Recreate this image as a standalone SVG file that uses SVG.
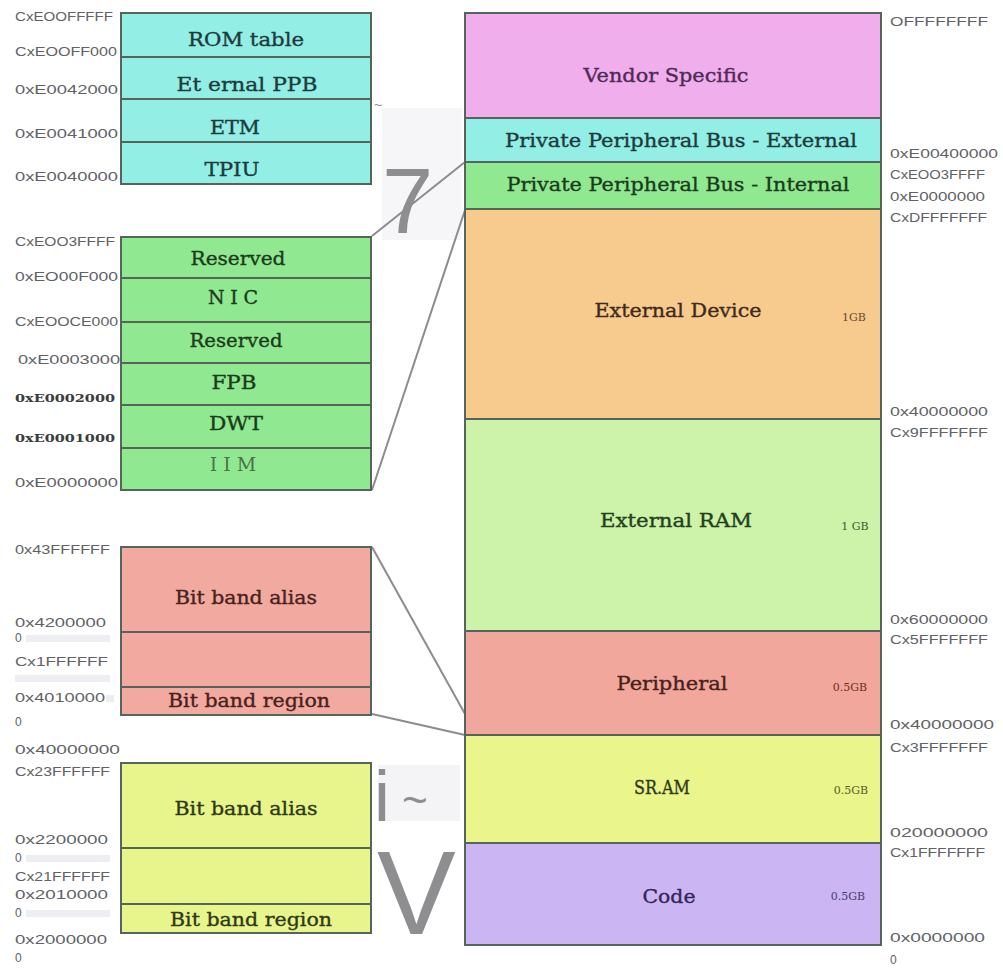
<svg xmlns="http://www.w3.org/2000/svg" width="1003" height="976" viewBox="0 0 1003 976">
<style>
.bx{stroke:#56655a;stroke-width:2}
.lb{font-family:"DejaVu Serif","Liberation Serif",serif;font-size:19px;text-anchor:middle;stroke-width:0.35}
.sz{font-family:"DejaVu Serif","Liberation Serif",serif;font-size:11px;text-anchor:middle}
.ad{font-family:"Liberation Sans",Arial,sans-serif;font-size:12px;fill:#5f6266}
.adb{font-family:"DejaVu Serif","Liberation Serif",serif;font-size:11px;fill:#3a3d40;font-weight:bold}
.cn{fill:none;stroke:#8c8c8c;stroke-width:2}
.art{font-family:"Liberation Sans",Arial,sans-serif;fill:#8e8e90}
.smudge{fill:#eceef2}
.tp{fill:#4e2a55;stroke:#4e2a55}
.tc{fill:#1d3b3b;stroke:#1d3b3b}
.tg{fill:#1c3a1c;stroke:#1c3a1c}
.to{fill:#3f2a1c;stroke:#3f2a1c}
.tl{fill:#23401c;stroke:#23401c}
.tr{fill:#47221c;stroke:#47221c}
.ty{fill:#2e3a14;stroke:#2e3a14}
.tv{fill:#33245a;stroke:#33245a}
</style>
<rect width="1003" height="976" fill="#ffffff"/>

<!-- artifact backgrounds -->
<rect x="382" y="108" width="80" height="132" fill="#f6f6f8"/>
<rect x="378" y="765" width="82" height="56" fill="#f4f4f6"/>

<g id="connectors">
<line class="cn" x1="372" y1="236" x2="465" y2="162"/>
<line class="cn" x1="372" y1="490" x2="465" y2="210"/>
<line class="cn" x1="372" y1="547" x2="465" y2="714"/>
<line class="cn" x1="372" y1="714" x2="465" y2="735"/>
</g>

<!-- artifacts -->
<text class="art" x="382" y="233" font-size="92">7</text>
<text class="art" x="374" y="110" font-size="14">~</text>
<text class="art" x="374" y="821" font-size="72">i</text>
<text class="art" x="402" y="815" font-size="44">~</text>
<text class="art" x="377" y="934" font-size="118" fill="#9a9a9c">V</text>

<!-- right column -->
<g id="vendor-specific"><rect class="bx" x="465" y="13" width="416" height="105" fill="#F0AEEC"/><text class="lb tp" x="666" y="82" textLength="165" lengthAdjust="spacingAndGlyphs">Vendor Specific</text></g>
<g id="ppb-external"><rect class="bx" x="465" y="118" width="416" height="44" fill="#93EEE6"/><text class="lb tc" x="681" y="147" textLength="352" lengthAdjust="spacingAndGlyphs">Private Peripheral Bus - External</text></g>
<g id="ppb-internal"><rect class="bx" x="465" y="162" width="416" height="47" fill="#90E991"/><text class="lb tg" x="678" y="191" textLength="343" lengthAdjust="spacingAndGlyphs">Private Peripheral Bus - Internal</text></g>
<g id="external-device"><rect class="bx" x="465" y="209" width="416" height="210" fill="#F6CB8D"/><text class="lb to" x="678" y="317" textLength="167" lengthAdjust="spacingAndGlyphs">External Device</text><text class="sz" x="854" y="321" fill="#6a4a30">1GB</text></g>
<g id="external-ram"><rect class="bx" x="465" y="419" width="416" height="212" fill="#CDF2AA"/><text class="lb tl" x="676" y="527" textLength="152" lengthAdjust="spacingAndGlyphs">External RAM</text><text class="sz" x="855" y="530" fill="#3d5a30">1 GB</text></g>
<g id="peripheral"><rect class="bx" x="465" y="631" width="416" height="104" fill="#F2A79D"/><text class="lb tr" x="672" y="690" textLength="111" lengthAdjust="spacingAndGlyphs">Peripheral</text><text class="sz" x="850" y="691" fill="#6e2e24">0.5GB</text></g>
<g id="sram"><rect class="bx" x="465" y="735" width="416" height="108" fill="#EAF58C"/><text class="lb ty" x="662" y="794" textLength="56" lengthAdjust="spacingAndGlyphs" font-size="17">SR.AM</text><text class="sz" x="851" y="794" fill="#5a5a20">0.5GB</text></g>
<g id="code"><rect class="bx" x="465" y="843" width="416" height="102" fill="#CBB5F3"/><text class="lb tv" x="669" y="903" textLength="53" lengthAdjust="spacingAndGlyphs">Code</text><text class="sz" x="848" y="900" fill="#4a3a70">0.5GB</text></g>

<!-- right addresses -->
<g id="right-addresses">
<text class="ad" x="890" y="26" textLength="98" lengthAdjust="spacingAndGlyphs">OFFFFFFFF</text>
<text class="ad" x="890" y="158" textLength="108" lengthAdjust="spacingAndGlyphs">0xE00400000</text>
<text class="ad" x="890" y="179" textLength="95" lengthAdjust="spacingAndGlyphs">CxEOO3FFFF</text>
<text class="ad" x="890" y="201" textLength="95" lengthAdjust="spacingAndGlyphs">0xE0000000</text>
<text class="ad" x="890" y="222" textLength="97" lengthAdjust="spacingAndGlyphs">CxDFFFFFFF</text>
<text class="ad" x="890" y="416" textLength="98" lengthAdjust="spacingAndGlyphs">0x40000000</text>
<text class="ad" x="890" y="437" textLength="98" lengthAdjust="spacingAndGlyphs">Cx9FFFFFFF</text>
<text class="ad" x="890" y="624" textLength="98" lengthAdjust="spacingAndGlyphs">0x60000000</text>
<text class="ad" x="890" y="644" textLength="98" lengthAdjust="spacingAndGlyphs">Cx5FFFFFFF</text>
<text class="ad" x="890" y="729" textLength="104" lengthAdjust="spacingAndGlyphs">0x40000000</text>
<text class="ad" x="890" y="752" textLength="98" lengthAdjust="spacingAndGlyphs">Cx3FFFFFFF</text>
<text class="ad" x="890" y="837" textLength="98" lengthAdjust="spacingAndGlyphs">020000000</text>
<text class="ad" x="890" y="857" textLength="95" lengthAdjust="spacingAndGlyphs">Cx1FFFFFFF</text>
<text class="ad" x="890" y="942" textLength="95" lengthAdjust="spacingAndGlyphs">0x0000000</text>
<text class="ad" x="890" y="964">0</text>
</g>

<!-- left cyan -->
<g id="rom-table"><rect class="bx" x="121" y="13" width="250" height="44" fill="#93EEE6"/><text class="lb tc" x="246" y="46" textLength="116" lengthAdjust="spacingAndGlyphs">ROM table</text></g>
<g id="external-ppb"><rect class="bx" x="121" y="57" width="250" height="42" fill="#93EEE6"/><text class="lb tc" x="247" y="91" textLength="141" lengthAdjust="spacingAndGlyphs">Et ernal PPB</text></g>
<g id="etm"><rect class="bx" x="121" y="99" width="250" height="43" fill="#93EEE6"/><text class="lb tc" x="235" y="134" textLength="50" lengthAdjust="spacingAndGlyphs">ETM</text></g>
<g id="tpiu"><rect class="bx" x="121" y="142" width="250" height="42" fill="#93EEE6"/><text class="lb tc" x="232" y="176" textLength="55" lengthAdjust="spacingAndGlyphs">TPIU</text></g>

<!-- left green -->
<g id="reserved-1"><rect class="bx" x="121" y="237" width="250" height="41" fill="#90E991"/><text class="lb tg" x="238" y="265" textLength="95" lengthAdjust="spacingAndGlyphs">Reserved</text></g>
<g id="nic"><rect class="bx" x="121" y="278" width="250" height="44" fill="#90E991"/><text class="lb tg" x="233" y="304" textLength="50">N I C</text></g>
<g id="reserved-2"><rect class="bx" x="121" y="322" width="250" height="41" fill="#90E991"/><text class="lb tg" x="236" y="347" textLength="93" lengthAdjust="spacingAndGlyphs">Reserved</text></g>
<g id="fpb"><rect class="bx" x="121" y="363" width="250" height="42" fill="#90E991"/><text class="lb tg" x="234" y="389" textLength="45" lengthAdjust="spacingAndGlyphs">FPB</text></g>
<g id="dwt"><rect class="bx" x="121" y="405" width="250" height="43" fill="#90E991"/><text class="lb tg" x="236" y="430" textLength="54" lengthAdjust="spacingAndGlyphs">DWT</text></g>
<g id="itm"><rect class="bx" x="121" y="448" width="250" height="42" fill="#90E991"/><text class="lb" x="233" y="471" fill="#4f6f4f" font-size="13">I I M</text></g>

<!-- left red -->
<g id="bitband-alias-periph"><rect class="bx" x="121" y="547" width="250" height="85" fill="#F2A99F"/><text class="lb tr" x="246" y="604" textLength="142" lengthAdjust="spacingAndGlyphs">Bit band  alias</text></g>
<g id="periph-gap"><rect class="bx" x="121" y="632" width="250" height="55" fill="#F2A99F"/></g>
<g id="bitband-region-periph"><rect class="bx" x="121" y="687" width="250" height="28" fill="#F2A99F"/><text class="lb tr" x="249" y="707" textLength="162" lengthAdjust="spacingAndGlyphs">Bit band  region</text></g>

<!-- left yellow -->
<g id="bitband-alias-sram"><rect class="bx" x="121" y="763" width="250" height="85" fill="#E8F58C"/><text class="lb ty" x="246" y="815" textLength="143" lengthAdjust="spacingAndGlyphs">Bit band  alias</text></g>
<g id="sram-gap"><rect class="bx" x="121" y="848" width="250" height="56" fill="#E8F58C"/></g>
<g id="bitband-region-sram"><rect class="bx" x="121" y="904" width="250" height="29" fill="#E8F58C"/><text class="lb ty" x="251" y="926" textLength="162" lengthAdjust="spacingAndGlyphs">Bit band  region</text></g>

<!-- left addresses -->
<g id="left-addresses">
<text class="ad" x="15" y="21" textLength="98" lengthAdjust="spacingAndGlyphs">CxEOOFFFFF</text>
<text class="ad" x="15" y="56" textLength="102" lengthAdjust="spacingAndGlyphs">CxEOOFF000</text>
<text class="ad" x="15" y="94" textLength="103" lengthAdjust="spacingAndGlyphs">0xE0042000</text>
<text class="ad" x="15" y="138" textLength="103" lengthAdjust="spacingAndGlyphs">0xE0041000</text>
<text class="ad" x="15" y="181" textLength="103" lengthAdjust="spacingAndGlyphs">0xE0040000</text>
<text class="ad" x="15" y="246" textLength="100" lengthAdjust="spacingAndGlyphs">CxEOO3FFFF</text>
<text class="ad" x="15" y="281" textLength="103" lengthAdjust="spacingAndGlyphs">0xEO00F000</text>
<text class="ad" x="15" y="326" textLength="103" lengthAdjust="spacingAndGlyphs">CxEOOCE000</text>
<text class="ad" x="18" y="364" textLength="102" lengthAdjust="spacingAndGlyphs">0xE0003000</text>
<text class="adb" x="15" y="402" textLength="100" lengthAdjust="spacingAndGlyphs">0xE0002000</text>
<text class="adb" x="15" y="442" textLength="100" lengthAdjust="spacingAndGlyphs">0xE0001000</text>
<text class="ad" x="15" y="487" textLength="103" lengthAdjust="spacingAndGlyphs">0xE0000000</text>

<text class="ad" x="15" y="554" textLength="95" lengthAdjust="spacingAndGlyphs">0x43FFFFFF</text>
<text class="ad" x="15" y="627" textLength="91" lengthAdjust="spacingAndGlyphs">0x4200000</text>
<text class="ad" x="15" y="642">0</text>
<rect class="smudge" x="26" y="635" width="84" height="7"/>
<text class="ad" x="15" y="666" textLength="93" lengthAdjust="spacingAndGlyphs">Cx1FFFFFF</text>
<rect class="smudge" x="15" y="675" width="95" height="7"/>
<text class="ad" x="15" y="702" textLength="90" lengthAdjust="spacingAndGlyphs">0x4010000</text>
<rect class="smudge" x="106" y="695" width="8" height="7"/>
<text class="ad" x="15" y="726">0</text>
<text class="ad" x="15" y="754" textLength="105" lengthAdjust="spacingAndGlyphs">0x40000000</text>

<text class="ad" x="15" y="776" textLength="95" lengthAdjust="spacingAndGlyphs">Cx23FFFFFF</text>
<text class="ad" x="15" y="844" textLength="93" lengthAdjust="spacingAndGlyphs">0x2200000</text>
<text class="ad" x="15" y="862">0</text>
<rect class="smudge" x="26" y="855" width="84" height="7"/>
<text class="ad" x="15" y="881" textLength="95" lengthAdjust="spacingAndGlyphs">Cx21FFFFFF</text>
<text class="ad" x="15" y="899" textLength="93" lengthAdjust="spacingAndGlyphs">0x2010000</text>
<text class="ad" x="15" y="917">0</text>
<rect class="smudge" x="26" y="910" width="84" height="7"/>
<text class="ad" x="15" y="944" textLength="92" lengthAdjust="spacingAndGlyphs">0x2000000</text>
<text class="ad" x="15" y="962">0</text>
</g>
</svg>
